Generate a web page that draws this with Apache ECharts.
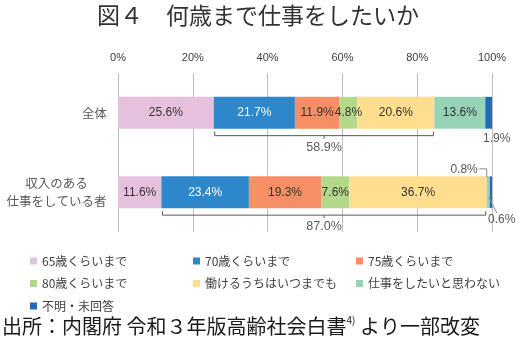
<!DOCTYPE html>
<html>
<head>
<meta charset="utf-8">
<script src="https://cdn.jsdelivr.net/npm/echarts@6/dist/echarts.min.js"></script>
<style>html,body{margin:0;padding:0;background:#fff}#c{width:516px;height:346px}</style>
</head>
<body>
<div id="c"></div>
<script>
// ---- data ----
const categories = ['全体', '収入のある\n仕事をしている者'];
const seriesNames = ['65歳くらいまで', '70歳くらいまで', '75歳くらいまで', '80歳くらいまで', '働けるうちはいつまでも', '仕事をしたいと思わない', '不明・未回答'];
const age65 = [25.6, 11.6];
const age70 = [21.7, 23.4];
const age75 = [11.9, 19.3];
const age80 = [4.8, 7.6];
const always = [20.6, 36.7];
const noWork = [13.6, 0.8];
const unknown = [1.9, 0.6];
const bracketTotals = [58.9, 87.0];   // 70歳〜働けるうちはいつまでも の合計
const xTicks = [0, 20, 40, 60, 80, 100];

// ---- styles ----
const colors = ['#E5C1DE', '#2E87CA', '#F68F66', '#B4D88A', '#FFDF8F', '#97D4B7', '#1E6CB7'];
const labelColors = ['#333', '#fff', '#333', '#333', '#333', '#333', '#555'];
const seriesValues = [age65, age70, age75, age80, always, noWork, unknown];
const NUM_FONT = '"Liberation Sans", Arial, sans-serif';
const JP_FONT = '"Noto Sans CJK JP", sans-serif';

// small-value label placements (styling)
const smallLabel = {
  '6-0': { position: 'right', offset: [-14, 26] },
  '5-1': { position: 'left', offset: [-4, -23] },
  '6-1': { position: 'right', offset: [-9, 27] }
};

const barSeries = seriesValues.map((vals, si) => ({
  name: seriesNames[si],
  type: 'bar',
  stack: 'total',
  barWidth: '40%',
  itemStyle: { color: colors[si] },
  data: vals.map((v, ci) => {
    const key = si + '-' + ci;
    const item = { value: v };
    if (smallLabel[key]) {
      item.label = Object.assign({ show: true, color: '#595959' }, smallLabel[key]);
    }
    return item;
  }),
  label: {
    show: true,
    position: 'inside',
    color: labelColors[si],
    fontFamily: NUM_FONT,
    fontSize: 12,
    formatter: p => p.value.toFixed(1) + '%'
  },
  emphasis: { disabled: true }
}));

// bracket data: start, end, category, total
const bracketData = categories.map((c, i) => {
  const start = age65[i];
  const end = age65[i] + age70[i] + age75[i] + age80[i] + always[i];
  return [start, end, i, bracketTotals[i]];
});

const bracketSeries = {
  type: 'custom',
  name: 'bracket',
  silent: true,
  encode: { x: [0, 1], y: 2 },
  data: bracketData,
  z: 5,
  renderItem(params, api) {
    const s = api.coord([api.value(0), api.value(2)]);
    const e = api.coord([api.value(1), api.value(2)]);
    const bandH = api.size([0, 1])[1];
    const y = s[1] + bandH * 0.2 + 7;
    const mx = (s[0] + e[0]) / 2;
    const st = { stroke: '#595959', lineWidth: 1, fill: null };
    return {
      type: 'group',
      children: [
        { type: 'polyline', shape: { points: [[s[0] + 1, y - 4], [s[0] + 1, y], [e[0] - 1, y], [e[0] - 1, y - 4]] }, style: st },
        { type: 'line', shape: { x1: mx, y1: y, x2: mx, y2: y + 3 }, style: st },
        { type: 'text', x: mx, y: y + 11.5, style: { text: api.value(3).toFixed(1) + '%', align: 'center', verticalAlign: 'middle', fill: '#595959', font: '12.5px ' + NUM_FONT } }
      ]
    };
  }
};

// leader lines for the tiny segments of the 2nd category
const leaderSeries = {
  type: 'custom',
  name: 'leader',
  silent: true,
  encode: { x: 0, y: 1 },
  data: [[age65[1] + age70[1] + age75[1] + age80[1] + always[1], 1, noWork[1], unknown[1]]],
  z: 5,
  renderItem(params, api) {
    const base = api.value(0);
    const a = api.coord([base + api.value(2) / 2, api.value(1)]);
    const b = api.coord([base + api.value(2) + api.value(3), api.value(1)]);
    const bandH = api.size([0, 1])[1];
    const top = a[1] - bandH * 0.2;
    const st = { stroke: '#8c8c8c', lineWidth: 1, fill: null };
    return {
      type: 'group',
      children: [
        { type: 'polyline', shape: { points: [[a[0] - 9, top - 7.5], [a[0] - 1.5, top - 7.5], [a[0] - 1.5, top + 1]] }, style: st },
        { type: 'line', shape: { x1: b[0] - 3, y1: a[1] + 5, x2: b[0] + 5, y2: a[1] + 21 }, style: st }
      ]
    };
  }
};

const legendText = { color: '#404040', fontSize: 12, fontFamily: JP_FONT, lineHeight: 14 };
const legendBase = {
  orient: 'vertical', top: 254, itemWidth: 7, itemHeight: 7, itemGap: 8.5, icon: 'rect',
  textStyle: legendText, selectedMode: false, padding: 0
};

const chart = echarts.init(document.getElementById('c'));
chart.setOption({
  animation: false,
  color: colors,
  title: [
    {
      text: '図４　何歳まで仕事をしたいか', left: 'center', top: 3, padding: 0,
      textStyle: { fontFamily: JP_FONT, fontSize: 23, fontWeight: 'normal', color: '#333', lineHeight: 24 }
    },
    {
      text: '出所：内閣府 令和３年版高齢社会白書{sup|4)} より一部改変', left: 2, top: 315, padding: 0,
      textStyle: {
        fontFamily: JP_FONT, fontSize: 20, fontWeight: 'normal', color: '#1a1a1a', lineHeight: 22,
        rich: { sup: { fontSize: 10, fontFamily: JP_FONT, color: '#1a1a1a', verticalAlign: 'top', padding: [0, 0, 10, 0] } }
      }
    }
  ],
  legend: [
    Object.assign({}, legendBase, { left: 30, data: [seriesNames[0], seriesNames[3], seriesNames[6]] }),
    Object.assign({}, legendBase, { left: 193, data: [seriesNames[1], seriesNames[4]] }),
    Object.assign({}, legendBase, { left: 356, data: [seriesNames[2], seriesNames[5]] })
  ],
  grid: { left: 118, right: 24, top: 73, bottom: 114, containLabel: false },
  xAxis: {
    type: 'value', position: 'top', min: xTicks[0], max: xTicks[xTicks.length - 1], interval: xTicks[1] - xTicks[0],
    axisLine: { show: false }, axisTick: { show: false },
    axisLabel: { formatter: v => v + '%', color: '#404040', fontSize: 11, fontFamily: NUM_FONT, margin: 10 },
    splitLine: { show: true, lineStyle: { color: '#bfbfbf', width: 1 } }
  },
  yAxis: {
    type: 'category', inverse: true, data: categories,
    axisLine: { show: false }, axisTick: { show: false },
    axisLabel: {
      margin: 11, color: '#595959', fontSize: 12.5, fontFamily: JP_FONT, lineHeight: 18,
      formatter: v => v.indexOf('\n') >= 0 ? v.split('\n').map(s => '{c|' + s + '}').join('\n') : v,
      rich: { c: { width: 101, align: 'center', fontSize: 12.5, lineHeight: 18, color: '#595959', fontFamily: JP_FONT } }
    }
  },
  series: barSeries.concat([bracketSeries, leaderSeries])
});
</script>
</body>
</html>
